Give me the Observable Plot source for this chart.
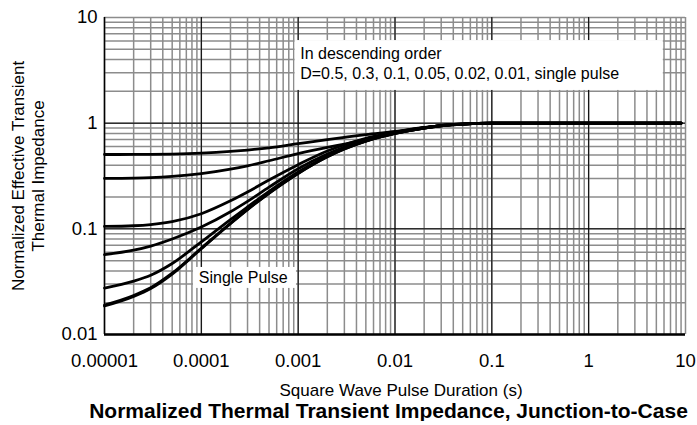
<!DOCTYPE html>
<html>
<head>
<meta charset="utf-8">
<script src="https://cdn.jsdelivr.net/npm/d3@7"></script>
<script src="https://cdn.jsdelivr.net/npm/@observablehq/plot@0.6"></script>
<style>
  body { margin: 0; background: #fff; font-family: Arial, "Liberation Sans", sans-serif; }
  #title { font-weight: bold; font-size: 21px; line-height: 20px; margin-top: 1px; text-align: center; padding-left: 80px; width: 617px; white-space: nowrap; color: #000; }
</style>
</head>
<body>
<div id="chart"></div>
<div id="title">Normalized Thermal Transient Impedance, Junction-to-Case</div>
<script>
// Pulse durations (s)
const durations = [1e-5, 2e-5, 3e-5, 5e-5, 1e-4, 2e-4, 3e-4, 5e-4, 1e-3, 2e-3, 3e-3, 5e-3, 1e-2, 2e-2, 3e-2, 5e-2, 1e-1, 1, 9];
// Normalized effective transient thermal impedance per duty cycle
const dutyLabels = ["D=0.5", "D=0.3", "D=0.1", "D=0.05", "D=0.02", "D=0.01", "Single pulse"];
const zD050 = [0.505, 0.506, 0.507, 0.51, 0.52, 0.54, 0.557, 0.585, 0.64, 0.70, 0.735, 0.78, 0.835, 0.91, 0.95, 0.98, 1, 1, 1];
const zD030 = [0.300, 0.302, 0.305, 0.313, 0.333, 0.367, 0.395, 0.441, 0.515, 0.59, 0.635, 0.70, 0.82, 0.905, 0.95, 0.98, 1, 1, 1];
const zD010 = [0.1055, 0.107, 0.1097, 0.117, 0.139, 0.184, 0.223, 0.29, 0.405, 0.545, 0.625, 0.72, 0.815, 0.905, 0.95, 0.98, 1, 1, 1];
const zD005 = [0.057, 0.0628, 0.0687, 0.0802, 0.104, 0.145, 0.182, 0.248, 0.371, 0.51, 0.595, 0.695, 0.805, 0.90, 0.948, 0.98, 1, 1, 1];
const zD002 = [0.0275, 0.032, 0.0364, 0.047, 0.0753, 0.1225, 0.161, 0.226, 0.345, 0.49, 0.578, 0.68, 0.80, 0.90, 0.945, 0.98, 1, 1, 1];
const zD001 = [0.019, 0.0234, 0.0277, 0.038, 0.0655, 0.113, 0.153, 0.218, 0.336, 0.482, 0.571, 0.676, 0.80, 0.90, 0.945, 0.98, 1, 1, 1];
const zSingle = [0.0186, 0.0229, 0.0272, 0.0373, 0.065, 0.112, 0.152, 0.217, 0.334, 0.48, 0.569, 0.675, 0.80, 0.90, 0.945, 0.98, 1, 1, 1];

// Tick values and labels
const xTicks = [1e-5, 1e-4, 1e-3, 1e-2, 1e-1, 1, 10];
const xTickLabels = ["0.00001", "0.0001", "0.001", "0.01", "0.1", "1", "10"];
const yTicks = [0.01, 0.1, 1, 10];
const yTickLabels = ["0.01", "0.1", "1", "10"];

// Text
const xLabel = "Square Wave Pulse Duration (s)";
const yLabel = "Normalized Effective Transient\nThermal Impedance";
const legendNote = "In descending order\nD=0.5, 0.3, 0.1, 0.05, 0.02, 0.01, single pulse";
const singleNote = "Single Pulse";

// Build table
const seriesValues = [zD050, zD030, zD010, zD005, zD002, zD001, zSingle];
const rows = [];
seriesValues.forEach((vals, s) => vals.forEach((v, i) => rows.push({series: dutyLabels[s], t: durations[i], z: v})));

// Grid lines (1..9 × each decade), majors at decades
function logGrid(lo, hi) {
  const out = [];
  for (let e = lo; e < hi; e++) for (let m = 1; m <= 9; m++) out.push(+(m * Math.pow(10, e)).toPrecision(3));
  out.push(Math.pow(10, hi));
  return out;
}
const xGrid = logGrid(-5, 1);
const yGrid = logGrid(-2, 1);
const xMajorInner = xTicks.slice(1, -1);
const yMajorInner = yTicks.slice(1, -1);

const xFmt = new Map(xTicks.map((t, i) => [t, xTickLabels[i]]));
const yFmt = new Map(yTicks.map((t, i) => [t, yTickLabels[i]]));

const font = "Arial, 'Liberation Sans', sans-serif";

const chart = Plot.plot({
  width: 697,
  height: 400,
  marginLeft: 104,
  marginRight: 12,
  marginTop: 17,
  marginBottom: 66,
  style: {fontFamily: font, color: "#000", background: "#fff", overflow: "visible"},
  x: {type: "log", domain: [1e-5, 10], axis: null},
  y: {type: "log", domain: [0.01, 10], axis: null},
  marks: [
    Plot.ruleX(xGrid, {stroke: "#8c8c8c", strokeWidth: 1.5}),
    Plot.ruleY(yGrid, {stroke: "#8c8c8c", strokeWidth: 1.5}),
    Plot.ruleX(xMajorInner, {stroke: "#000", strokeWidth: 1}),
    Plot.ruleY(yMajorInner, {stroke: "#000", strokeWidth: 1}),
    Plot.rect([legendNote], {x1: 9.3e-4, x2: 5.9, y1: 2.04, y2: 6.05, fill: "#fff"}),
    Plot.rect([singleNote], {x1: 8.3e-5, x2: 9.6e-4, y1: 0.0273, y2: 0.0431, fill: "#fff"}),
    Plot.text([legendNote], {text: d => d, x: 1.05e-3, y: 3.75, textAnchor: "start", lineAnchor: "middle", lineHeight: 1.25, fontSize: 16, fill: "#000"}),
    Plot.text([singleNote], {text: d => d, x: 2.71e-4, y: 0.0347, textAnchor: "middle", lineAnchor: "middle", fontSize: 16, fill: "#000"}),
    Plot.line(rows, {x: "t", y: "z", z: "series", stroke: "#000", strokeWidth: 2.8, curve: "monotone-x"}),
    Plot.ruleY([yTicks[0]], {stroke: "#000", strokeWidth: 2.5}),
    Plot.ruleX([xTicks[0]], {stroke: "#000", strokeWidth: 1.5}),
    Plot.axisX({ticks: xTicks, tickFormat: d => xFmt.get(d), tickSize: 0, tickPadding: 19, fontSize: 18.5, label: null}),
    Plot.axisY({ticks: yTicks, tickFormat: d => yFmt.get(d), tickSize: 0, tickPadding: 7, fontSize: 18.5, label: null}),
    Plot.text([xLabel], {text: d => d, frameAnchor: "bottom", dy: 56, dx: 6, fontSize: 17, lineAnchor: "middle", textAnchor: "middle", fill: "#000"}),
    Plot.text([yLabel], {text: d => d, frameAnchor: "left", dx: -77, rotate: -90, fontSize: 17, lineHeight: 1.18, lineAnchor: "middle", textAnchor: "middle", fill: "#000"})
  ]
});
document.getElementById("chart").appendChild(chart);
</script>
</body>
</html>
